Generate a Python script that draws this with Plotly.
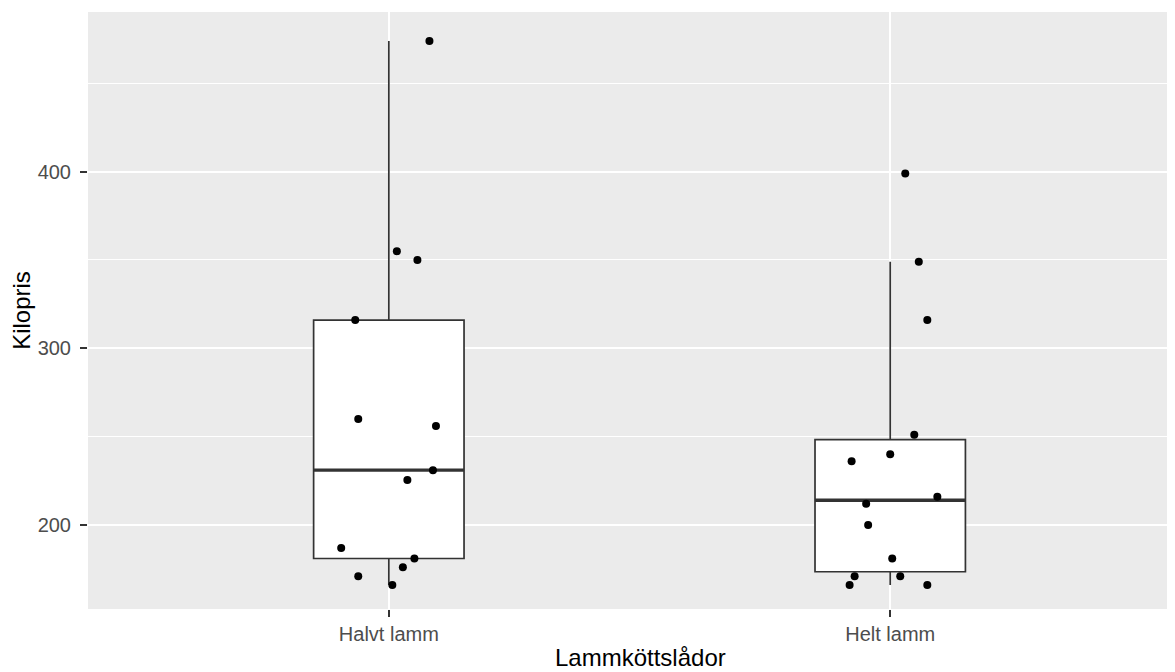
import numpy as np
import plotly.graph_objects as go

# ---- data ----
categories = ["Halvt lamm", "Helt lamm"]
halvt_kilopris = [474, 355, 350, 316, 260, 256, 231, 225.5, 187, 181, 176, 171, 166]
halvt_jitter = [0.081, 0.016, 0.057, -0.067, -0.061, 0.094, 0.088, 0.037, -0.095, 0.051, 0.028, -0.061, 0.007]
helt_kilopris = [399, 349, 316, 251, 240, 236, 216, 212, 200, 181, 171, 171, 166, 166]
helt_jitter = [0.030, 0.057, 0.074, 0.048, 0.000, -0.077, 0.094, -0.048, -0.044, 0.004, -0.071, 0.020, -0.081, 0.074]
y_ticks = [200, 300, 400]

groups = [halvt_kilopris, helt_kilopris]
jitters = [halvt_jitter, helt_jitter]

BOX_W = 0.3
FONT = "Arial, Liberation Sans, sans-serif"
EDGE = "#333333"

fig = go.Figure()


def box_stats(vals):
    v = np.asarray(vals, dtype=float)
    q1, med, q3 = np.percentile(v, [25, 50, 75])
    iqr = q3 - q1
    lo = v[v >= q1 - 1.5 * iqr].min()
    hi = v[v <= q3 + 1.5 * iqr].max()
    return q1, med, q3, lo, hi


stats = [box_stats(g) for g in groups]

for i, (name, st) in enumerate(zip(categories, stats)):
    q1, med, q3, lo, hi = st
    pos = i + 1
    fig.add_trace(go.Box(
        x=[pos], q1=[q1], median=[med], q3=[q3],
        lowerfence=[lo], upperfence=[hi],
        width=BOX_W, whiskerwidth=0, boxpoints=False,
        fillcolor="white", line=dict(color=EDGE, width=1.7),
        name=name, showlegend=False, hoverinfo="skip",
    ))

# thicker median lines (ggplot fatten)
for i, st in enumerate(stats):
    pos = i + 1
    fig.add_trace(go.Scatter(
        x=[pos - BOX_W / 2, pos + BOX_W / 2], y=[st[1], st[1]],
        mode="lines", line=dict(color=EDGE, width=3.4),
        showlegend=False, hoverinfo="skip",
    ))

# jittered points
for i, (vals, jit) in enumerate(zip(groups, jitters)):
    pos = i + 1
    fig.add_trace(go.Scatter(
        x=[pos + j for j in jit], y=vals, mode="markers",
        marker=dict(color="black", size=8, line=dict(width=0)),
        name=categories[i], showlegend=False,
    ))

fig.update_layout(
    width=1167, height=664,
    margin=dict(l=80, r=0, t=4, b=63),
    paper_bgcolor="white", plot_bgcolor="#EBEBEB",
    font=dict(family=FONT, color="black"),
    showlegend=False,
    xaxis=dict(
        range=[0.4, 2.568], tickmode="array", tickvals=[1, 2], ticktext=categories,
        showgrid=True, gridcolor="white", gridwidth=2, zeroline=False,
        ticks="outside", ticklen=7, tickwidth=1.7, tickcolor=EDGE,
        tickfont=dict(size=20, color="#4D4D4D", family=FONT),
        showline=False,
    ),
    yaxis=dict(
        range=[152.4, 490.4], tickmode="array", tickvals=y_ticks,
        showgrid=True, gridcolor="white", gridwidth=2, zeroline=False,
        minor=dict(tickvals=[250, 350, 450], showgrid=True, gridcolor="white", gridwidth=1),
        ticks="outside", ticklen=7, tickwidth=1.7, tickcolor=EDGE,
        tickfont=dict(size=20, color="#4D4D4D", family=FONT),
        ticklabelstandoff=5,
        title=dict(text="Kilopris", font=dict(size=24, color="black", family=FONT), standoff=8),
        showline=False,
    ),
    annotations=[dict(
        text="Lammköttslådor", xref="paper", yref="paper",
        x=(640 - 88) / (1175 - 88), y=0, yshift=-33, xanchor="center", yanchor="top",
        showarrow=False, font=dict(size=24, color="black", family=FONT),
    )],
)

fig.write_html("out.html")
